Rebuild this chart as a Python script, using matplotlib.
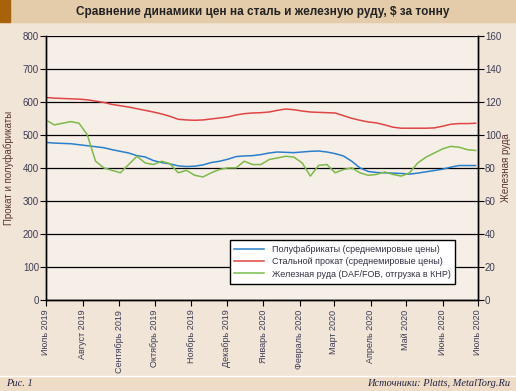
import pandas as pd
import matplotlib.pyplot as plt
from matplotlib.patches import Rectangle

plt.rcParams['font.family'] = ['Liberation Sans', 'DejaVu Sans']

# Weekly prices, Jul 2019 - Jul 2020
dates = pd.date_range('2019-07-01', periods=53, freq='7D')

semis = [477, 475, 474, 473, 470, 467, 464, 461, 455, 450,
         445, 437, 433, 422, 416, 412, 406, 404, 405, 409,
         416, 420, 426, 434, 436, 437, 440, 445, 448, 447,
         446, 448, 450, 451, 448, 443, 436, 420, 400, 389,
         386, 385, 384, 383, 381, 384, 388, 392, 396, 402,
         407, 407, 407]

rolled = [613, 611, 610, 609, 608, 606, 602, 598, 592, 588,
          584, 579, 574, 569, 563, 556, 547, 545, 544, 545,
          548, 551, 554, 560, 564, 566, 567, 569, 574, 578,
          576, 572, 569, 568, 567, 566, 558, 550, 544, 539,
          536, 530, 523, 520, 520, 520, 520, 521, 526, 532,
          534, 534, 535]

ore = [109, 106, 107, 108, 107, 100, 84, 80, 78.5, 77,
       82, 87, 83, 82, 84, 82.5, 77, 78.5, 75.5, 74.5,
       77, 79, 80, 80, 84, 82, 82, 85, 86, 87,
       86.5, 83, 75, 81.5, 82, 77, 79, 80, 77, 75.5,
       76, 77.5, 76, 75, 77, 83, 86.5, 89, 91.5, 93,
       92.5, 91, 90.5]

month_ticks = pd.date_range('2019-07-01', '2020-07-01', freq='MS')
month_labels = ['Июль 2019', 'Август 2019', 'Сентябрь 2019', 'Октябрь 2019',
                'Ноябрь 2019', 'Декабрь 2019', 'Январь 2020', 'Февраль 2020',
                'Март 2020', 'Апрель 2020', 'Май 2020', 'Июнь 2020', 'Июль 2020']

bg = '#f1e5d7'
txt = '#3c3c55'

fig = plt.figure(figsize=(5.16, 3.91), dpi=100, facecolor=bg)

# header and footer bands
fig.patches.append(Rectangle((0, 1 - 22/391), 1, 22/391, transform=fig.transFigure,
                             color='#e4cba9', zorder=0))
fig.patches.append(Rectangle((0, 1 - 22/391), 10/516, 22/391, transform=fig.transFigure,
                             color='#a8620a', zorder=1))
fig.patches.append(Rectangle((0, 0), 1, 15/391, transform=fig.transFigure,
                             color='#eedcc6', zorder=0))
fig.lines.append(plt.Line2D([0, 1], [15/391, 15/391], transform=fig.transFigure,
                            color='white', lw=1))
fig.text(263/516, 1 - 12/391, 'Сравнение динамики цен на сталь и железную руду, $ за тонну',
         ha='center', va='center', fontsize=8.5, fontweight='bold', color='#222222')
fig.text(6/516, 7/391, 'Рис. 1', ha='left', va='center', fontsize=7.5,
         family='Liberation Serif', style='italic', color='#222244')
fig.text(510/516, 7/391, 'Источники: Platts, MetalTorg.Ru', ha='right', va='center',
         fontsize=7.5, family='Liberation Serif', style='italic', color='#222244')

ax = fig.add_axes([46/516, 1 - 300/391, 432/516, 264.3/391])
ax.set_facecolor('#f6efe8')
ax2 = ax.twinx()

l1, = ax.plot(dates, semis, color='#2a7fcb', lw=1.1)
l2, = ax.plot(dates, rolled, color='#e04545', lw=1.1)
l3, = ax2.plot(dates, ore, color='#7dba4a', lw=1.1)

ax.set_ylim(0, 800)
ax2.set_ylim(0, 160)
ax.set_xlim(month_ticks[0], month_ticks[-1])
ax.set_yticks(range(0, 801, 100))
ax2.set_yticks(range(0, 161, 20))
ax.grid(axis='y', color='black', lw=0.9)
ax.set_axisbelow(True)

ax.set_xticks(month_ticks)
ax.set_xticklabels(month_labels, rotation=90, fontsize=6.5, color=txt)
ax.tick_params(axis='y', labelsize=7, colors='black', labelcolor=txt, length=4, pad=1)
ax2.tick_params(axis='y', labelsize=7, colors='black', labelcolor=txt, length=4, pad=1)
ax.tick_params(axis='x', length=4, pad=3)

for a in (ax, ax2):
    a.spines['top'].set_visible(False)
    for s in ('left', 'right', 'bottom'):
        a.spines[s].set_linewidth(1)

ax.set_ylabel('Прокат и полуфабрикаты', fontsize=7, color='#5a3535')
ax.yaxis.set_label_coords(-32/432, 0.5)
ax2.set_ylabel('Железная руда', fontsize=7, color='#5a3535', rotation=90)
ax2.yaxis.set_label_coords(1 + 23/432, 0.5)

leg = ax2.legend([l1, l2, l3],
                 ['Полуфабрикаты (среднемировые цены)',
                  'Стальной прокат (среднемировые цены)',
                  'Железная руда (DAF/FOB, отгрузка в КНР)'],
                 loc='lower right', bbox_to_anchor=(0.958, 0.045), fontsize=6.5,
                 frameon=True, fancybox=False, framealpha=1, edgecolor='black',
                 handlelength=3.3, labelspacing=0.35, borderpad=0.55)
leg.get_frame().set_linewidth(1)
for t in leg.get_texts():
    t.set_color('#333344')

fig.savefig('out.png', dpi=100, facecolor=bg)
